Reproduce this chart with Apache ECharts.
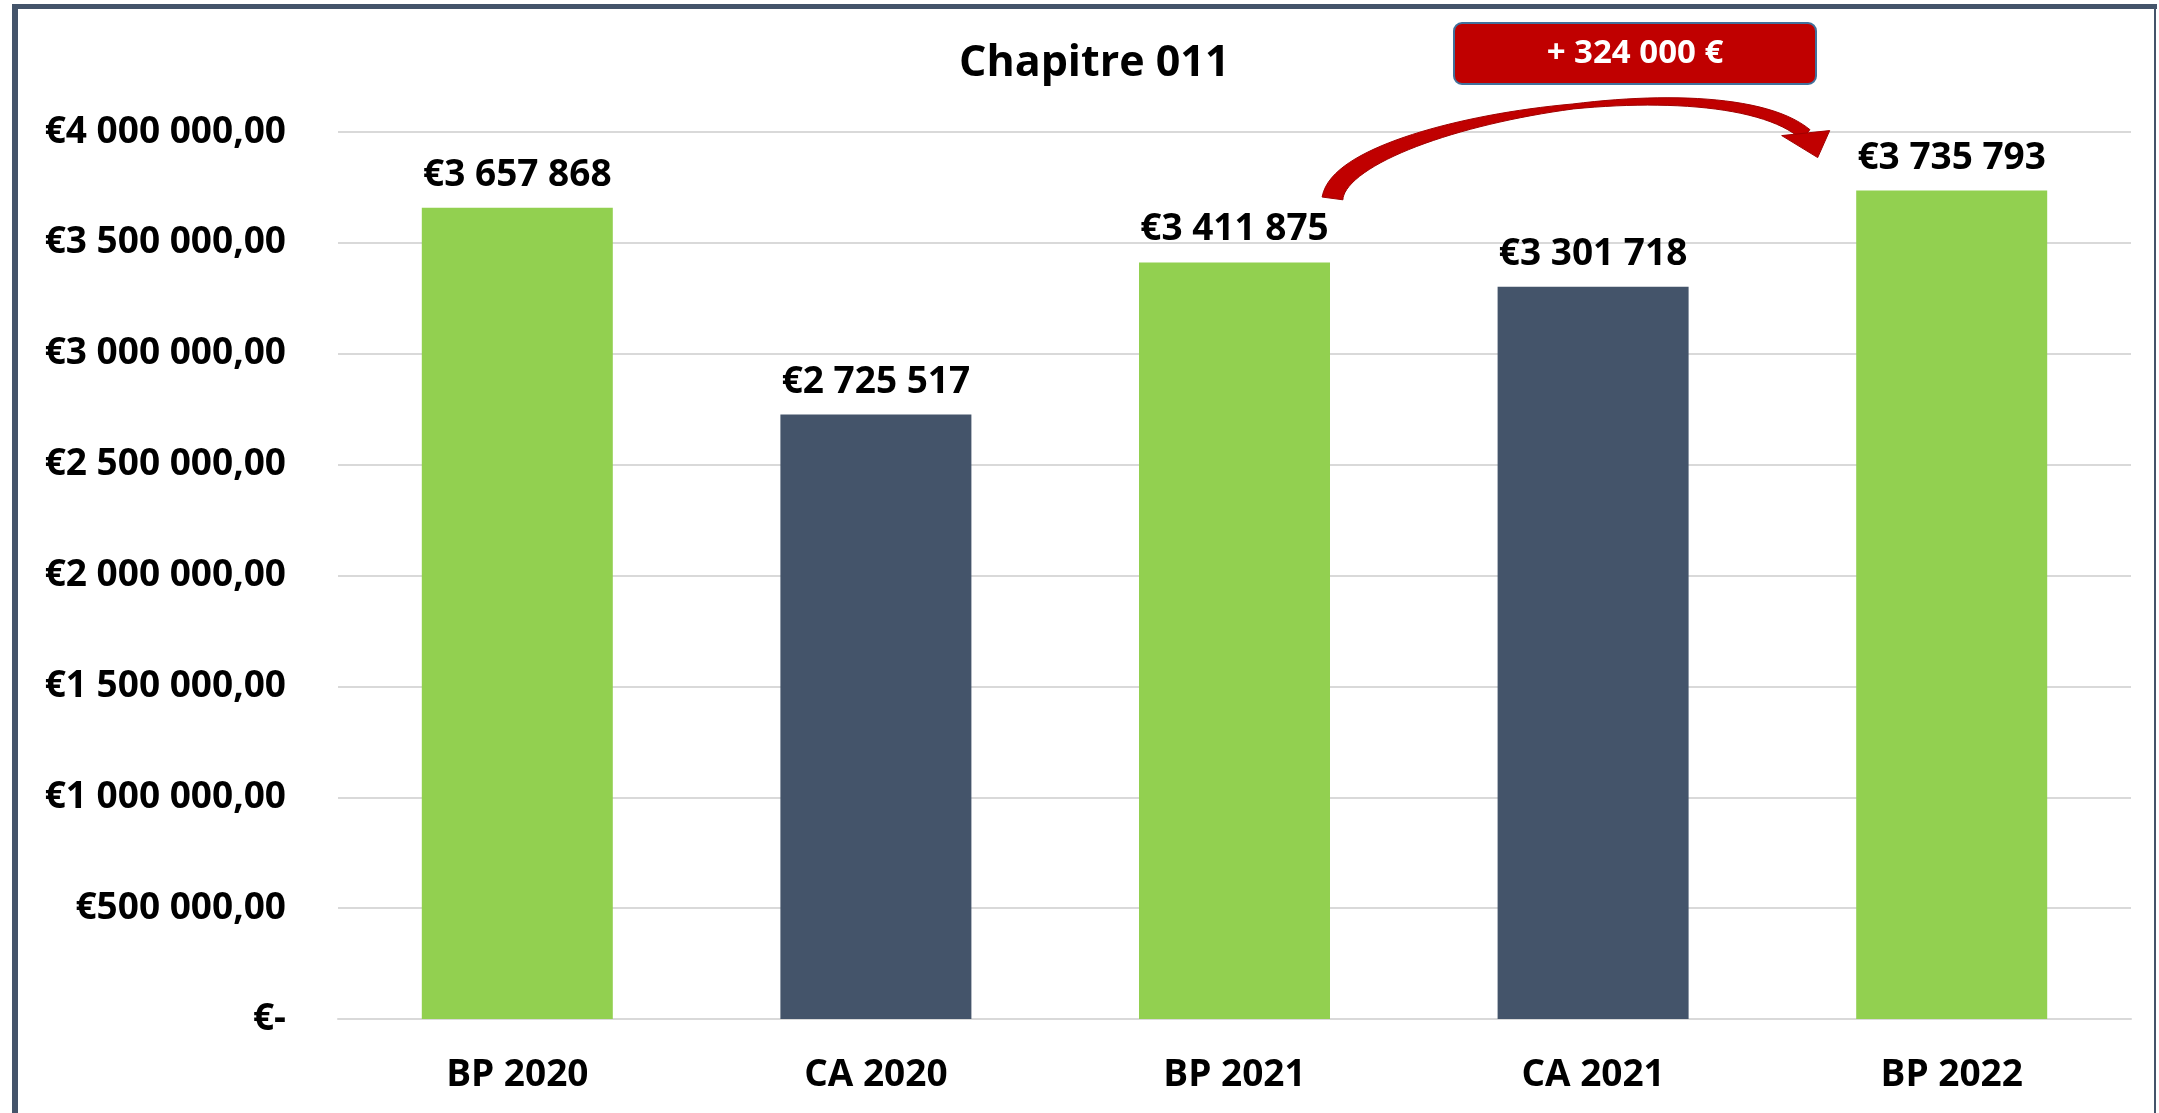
<!DOCTYPE html>
<html>
<head>
<meta charset="utf-8">
<script src="https://cdn.jsdelivr.net/npm/echarts@6/dist/echarts.min.js"></script>
<style>
    html, body { margin: 0; padding: 0; background: #ffffff; }
    #chart { width: 2159px; height: 1113px; }
</style>
</head>
<body>
<div id="chart"></div>
<script>
const categories = ["BP 2020", "CA 2020", "BP 2021", "CA 2021", "BP 2022"];
const amounts = [3657868, 2725517, 3411875, 3301718, 3735793];
const yTicks = [0, 500000, 1000000, 1500000, 2000000, 2500000, 3000000, 3500000, 4000000];
const titleText = "Chapitre 011";
const deltaText = "+ 324 000 €";

const fontFamily = "'Open Sans', 'Noto Sans', sans-serif";
const green = "#92D050";
const slate = "#44546A";
const red = "#C00000";

const groupDigits = (n) => String(Math.round(n)).replace(/\B(?=(\d{3})+(?!\d))/g, " ");

const chart = echarts.init(document.getElementById("chart"));

const option = {
    animation: false,
    backgroundColor: "#ffffff",
    title: {
        text: titleText,
        left: 954,
        top: 37,
        textStyle: { fontFamily, fontSize: 43, fontWeight: "bold", color: "#000000" },
    },
    grid: { left: 338, right: 28, top: 132, bottom: 94 },
    xAxis: {
        type: "category",
        data: categories,
        axisTick: { show: false },
        axisLine: { lineStyle: { color: "#D9D9D9", width: 2 } },
        axisLabel: { margin: 38, fontFamily, fontSize: 37, fontWeight: "bold", color: "#000000" },
    },
    yAxis: {
        type: "value",
        min: yTicks[0],
        max: yTicks[yTicks.length - 1],
        interval: yTicks[1] - yTicks[0],
        splitLine: { lineStyle: { color: "#D9D9D9", width: 2 } },
        axisLabel: {
            margin: 52,
            fontFamily,
            fontSize: 37,
            fontWeight: "bold",
            color: "#000000",
            formatter: (v) => (v === 0 ? "€-" : "€" + groupDigits(v) + ",00"),
        },
    },
    series: [
        {
            type: "bar",
            barWidth: 191,
            data: amounts.map((v, i) => ({
                value: v,
                itemStyle: { color: categories[i].startsWith("BP") ? green : slate },
            })),
            label: {
                show: true,
                position: "top",
                distance: 14,
                fontFamily,
                fontSize: 37,
                fontWeight: "bold",
                color: "#000000",
                formatter: (p) => "€" + groupDigits(p.value),
            },
        },
    ],
};

chart.setOption(option);

// curved arrow from the BP 2021 label towards the BP 2022 label
const from = chart.convertToPixel({ gridIndex: 0 }, [categories[2], amounts[2]]);
const to = chart.convertToPixel({ gridIndex: 0 }, [categories[4], amounts[4]]);
const p0 = [from[0] + 98, from[1] - 64];
const p3 = [to[0] - 146, to[1] - 56];
const p1 = [p0[0] + 10, p0[1] - 75];
const p2 = [p3[0] - 85, p3[1] - 74];

const bez = (t, a, b, c, d) =>
    (1 - t) ** 3 * a + 3 * (1 - t) ** 2 * t * b + 3 * (1 - t) * t * t * c + t ** 3 * d;
const bezD = (t, a, b, c, d) =>
    3 * (1 - t) ** 2 * (b - a) + 6 * (1 - t) * t * (c - b) + 3 * t * t * (d - c);

const upper = [];
const lower = [];
const steps = 60;
for (let i = 0; i <= steps; i++) {
    const t = i / steps;
    const x = bez(t, p0[0], p1[0], p2[0], p3[0]);
    const y = bez(t, p0[1], p1[1], p2[1], p3[1]);
    const dx = bezD(t, p0[0], p1[0], p2[0], p3[0]);
    const dy = bezD(t, p0[1], p1[1], p2[1], p3[1]);
    const len = Math.hypot(dx, dy) || 1;
    const nx = -dy / len;
    const ny = dx / len;
    const w = t < 0.55 ? 21 - (16 * t) / 0.55 : 5 + (8 * (t - 0.55)) / 0.45;
    upper.push([x - (nx * w) / 2, y - (ny * w) / 2]);
    lower.push([x + (nx * w) / 2, y + (ny * w) / 2]);
}
const shaft = upper.concat(lower.reverse());

const head = [
    [p3[0] - 24, p3[1] + 1],
    [p3[0] + 24, p3[1] - 4],
    [p3[0] + 12, p3[1] + 23],
];

chart.setOption({
    graphic: [
        { type: "rect", shape: { x: 12, y: 4, width: 6, height: 1109 }, style: { fill: slate }, z: 100 },
        { type: "rect", shape: { x: 12, y: 4, width: 2145, height: 5 }, style: { fill: slate }, z: 100 },
        { type: "rect", shape: { x: 2154, y: 4, width: 2, height: 1109 }, style: { fill: slate }, z: 100 },
        {
            type: "polygon",
            shape: { points: shaft },
            style: { fill: red, stroke: "#A00000", lineWidth: 1 },
            z: 50,
        },
        {
            type: "polygon",
            shape: { points: head },
            style: { fill: red, stroke: "#A00000", lineWidth: 1 },
            z: 50,
        },
        {
            type: "rect",
            shape: { x: 1454, y: 23, width: 362, height: 61, r: 8 },
            style: { fill: red, stroke: "#41719C", lineWidth: 2 },
            z: 60,
        },
        {
            type: "text",
            x: 1635,
            y: 54,
            style: {
                text: deltaText,
                align: "center",
                verticalAlign: "middle",
                fontFamily,
                fontSize: 33,
                fontWeight: "bold",
                fill: "#ffffff",
            },
            z: 61,
        },
    ],
});
</script>
</body>
</html>
